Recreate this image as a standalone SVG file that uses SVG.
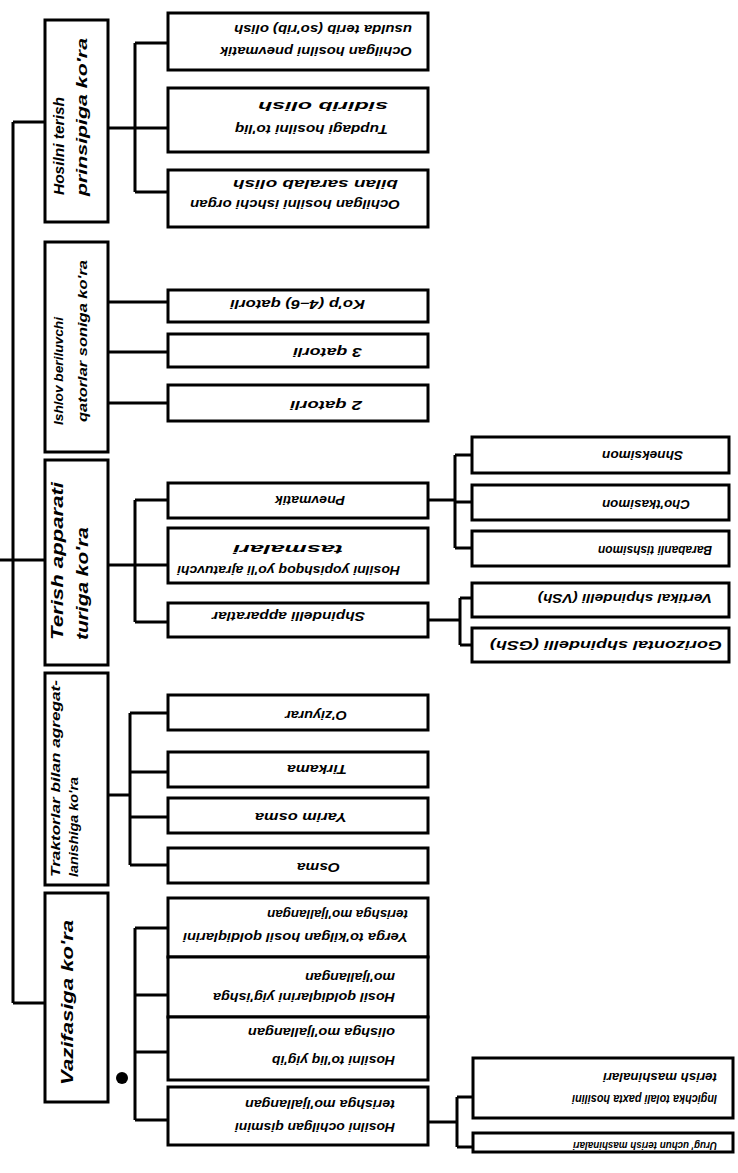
<svg xmlns="http://www.w3.org/2000/svg" width="738" height="1173" viewBox="0 0 738 1173">
<style>
.b{fill:#fff;stroke:#000;stroke-width:3}
.c{stroke:#000;stroke-width:3;fill:none}
.t{font-family:"Liberation Sans",Arial,sans-serif;font-style:italic;font-weight:bold;font-size:13px;fill:#000}
.v{font-family:"Liberation Sans",Arial,sans-serif;font-style:italic;font-weight:bold;fill:#000}
</style>
<rect width="738" height="1173" fill="#fff"/>
<g id="connectors">
<path class="c" d="M13 122V1003M13 122H45M0 560H45M13 1003H45"/>
<path class="c" d="M108 128H168M135 43V192M135 43H168M135 192H168"/>
<path class="c" d="M108 302H168M108 352H168M108 403H168"/>
<path class="c" d="M108 565H168M135 500V622M135 500H168M135 622H168"/>
<path class="c" d="M428 500H455M455 455V548M455 455H472M455 502H472M455 548H472"/>
<path class="c" d="M428 620H460M460 598V645M460 598H472M460 645H472"/>
<path class="c" d="M108 795H130M130 713V865M130 713H168M130 772H168M130 817H168M130 865H168"/>
<path class="c" d="M135 928V1120M135 928H168M135 995H168M135 1052H168M135 1120H168"/>
<path class="c" d="M428 1122H457M457 1097V1147M457 1097H473M457 1147H473"/>
<circle cx="122" cy="1078" r="6" fill="#000"/>
</g>
<g id="L1"><rect class="b" x="45" y="20" width="63" height="202"/>
<text class="v" font-size="14" x="64" y="195" transform="rotate(-90 64 195)" textLength="98" lengthAdjust="spacingAndGlyphs">Hosilni terish</text>
<text class="v" font-size="15" x="87" y="196" transform="rotate(-90 87 196)" textLength="158" lengthAdjust="spacingAndGlyphs">prinsipiga ko'ra</text></g>
<g id="L2"><rect class="b" x="45" y="242" width="63" height="210"/>
<text class="v" font-size="12" x="63" y="425" transform="rotate(-90 63 425)" textLength="108" lengthAdjust="spacingAndGlyphs">Ishlov beriluvchi</text>
<text class="v" font-size="12" x="87" y="422" transform="rotate(-90 87 422)" textLength="162" lengthAdjust="spacingAndGlyphs">qatorlar soniga ko'ra</text></g>
<g id="L3"><rect class="b" x="45" y="460" width="63" height="205"/>
<text class="v" font-size="17" x="63" y="640" transform="rotate(-90 63 640)" textLength="158" lengthAdjust="spacingAndGlyphs">Terish apparati</text>
<text class="v" font-size="17" x="88" y="640" transform="rotate(-90 88 640)" textLength="113" lengthAdjust="spacingAndGlyphs">turiga ko'ra</text></g>
<g id="L4"><rect class="b" x="45" y="673" width="63" height="212"/>
<text class="v" font-size="12" x="60" y="877" transform="rotate(-90 60 877)" textLength="197" lengthAdjust="spacingAndGlyphs">Traktorlar bilan agregat-</text>
<text class="v" font-size="12" x="78" y="877" transform="rotate(-90 78 877)" textLength="100" lengthAdjust="spacingAndGlyphs">lanishiga ko'ra</text></g>
<g id="L5"><rect class="b" x="45" y="893" width="63" height="209"/>
<text class="v" font-size="17" x="73" y="1085" transform="rotate(-90 73 1085)" textLength="165" lengthAdjust="spacingAndGlyphs">Vazifasiga ko'ra</text></g>
<g id="n1a"><rect class="b" x="168" y="13" width="260" height="57"/>
<text class="t" x="412" y="47" transform="rotate(180 412 47)" textLength="192" lengthAdjust="spacingAndGlyphs">Ochilgan hosilni pnevmatik</text>
<text class="t" x="412" y="25" transform="rotate(180 412 25)" textLength="178" lengthAdjust="spacingAndGlyphs">usulda terib (so'rib) olish</text></g>
<g id="n1b"><rect class="b" x="168" y="88" width="260" height="64"/>
<text class="t" x="388" y="125" transform="rotate(180 388 125)" textLength="153" lengthAdjust="spacingAndGlyphs">Tupdagi hosilni to'liq</text>
<text class="t" x="388" y="102" transform="rotate(180 388 102)" textLength="130" lengthAdjust="spacingAndGlyphs">sidirib olish</text></g>
<g id="n1c"><rect class="b" x="168" y="170" width="260" height="57"/>
<text class="t" x="400" y="200" transform="rotate(180 400 200)" textLength="210" lengthAdjust="spacingAndGlyphs">Ochilgan hosilni ishchi organ</text>
<text class="t" x="398" y="180" transform="rotate(180 398 180)" textLength="165" lengthAdjust="spacingAndGlyphs">bilan saralab olish</text></g>
<g id="n2a"><rect class="b" x="168" y="290" width="260" height="32"/>
<text class="t" x="365" y="300" transform="rotate(180 365 300)" textLength="135" lengthAdjust="spacingAndGlyphs">Ko'p (4–6) qatorli</text></g>
<g id="n2b"><rect class="b" x="168" y="334" width="260" height="33"/>
<text class="t" x="362" y="348" transform="rotate(180 362 348)" textLength="69" lengthAdjust="spacingAndGlyphs">3 qatorli</text></g>
<g id="n2c"><rect class="b" x="168" y="385" width="260" height="36"/>
<text class="t" x="362" y="401" transform="rotate(180 362 401)" textLength="72" lengthAdjust="spacingAndGlyphs">2 qatorli</text></g>
<g id="n3a"><rect class="b" x="168" y="483" width="260" height="35"/>
<text class="t" x="345" y="496" transform="rotate(180 345 496)" textLength="70" lengthAdjust="spacingAndGlyphs">Pnevmatik</text></g>
<g id="n3b"><rect class="b" x="168" y="528" width="260" height="55"/>
<text class="t" x="400" y="566" transform="rotate(180 400 566)" textLength="223" lengthAdjust="spacingAndGlyphs">Hosilni yopishqoq yo'li ajratuvchi</text>
<text class="t" x="343" y="545" transform="rotate(180 343 545)" textLength="110" lengthAdjust="spacingAndGlyphs">tasmalari</text></g>
<g id="n3c"><rect class="b" x="168" y="603" width="260" height="34"/>
<text class="t" x="365" y="612" transform="rotate(180 365 612)" textLength="153" lengthAdjust="spacingAndGlyphs">Shpindelli apparatlar</text></g>
<g id="s1"><rect class="b" x="472" y="437" width="257" height="36"/>
<text class="t" x="683" y="451" transform="rotate(180 683 451)" textLength="81" lengthAdjust="spacingAndGlyphs">Shneksimon</text></g>
<g id="s2"><rect class="b" x="472" y="485" width="257" height="35"/>
<text class="t" x="690" y="500" transform="rotate(180 690 500)" textLength="88" lengthAdjust="spacingAndGlyphs">Cho'tkasimon</text></g>
<g id="s3"><rect class="b" x="472" y="531" width="257" height="35"/>
<text class="t" x="712" y="546" transform="rotate(180 712 546)" textLength="114" lengthAdjust="spacingAndGlyphs">Barabanli tishsimon</text></g>
<g id="s4"><rect class="b" x="472" y="583" width="257" height="34"/>
<text class="t" x="712" y="594" transform="rotate(180 712 594)" textLength="174" lengthAdjust="spacingAndGlyphs">Vertikal shpindelli (VSh)</text></g>
<g id="s5"><rect class="b" x="472" y="628" width="257" height="34"/>
<text class="t" x="722" y="641" transform="rotate(180 722 641)" textLength="232" lengthAdjust="spacingAndGlyphs">Gorizontal shpindelli (GSh)</text></g>
<g id="n4a"><rect class="b" x="168" y="695" width="260" height="35"/>
<text class="t" x="347" y="711" transform="rotate(180 347 711)" textLength="62" lengthAdjust="spacingAndGlyphs">O'ziyurar</text></g>
<g id="n4b"><rect class="b" x="168" y="752" width="260" height="35"/>
<text class="t" x="347" y="765" transform="rotate(180 347 765)" textLength="60" lengthAdjust="spacingAndGlyphs">Tirkama</text></g>
<g id="n4c"><rect class="b" x="168" y="798" width="260" height="35"/>
<text class="t" x="347" y="813" transform="rotate(180 347 813)" textLength="92" lengthAdjust="spacingAndGlyphs">Yarim osma</text></g>
<g id="n4d"><rect class="b" x="168" y="848" width="260" height="35"/>
<text class="t" x="340" y="863" transform="rotate(180 340 863)" textLength="43" lengthAdjust="spacingAndGlyphs">Osma</text></g>
<g id="n5a"><rect class="b" x="168" y="898" width="260" height="59"/>
<text class="t" x="408" y="933" transform="rotate(180 408 933)" textLength="225" lengthAdjust="spacingAndGlyphs">Yerga to'kilgan hosil qoldiqlarini</text>
<text class="t" x="408" y="910" transform="rotate(180 408 910)" textLength="141" lengthAdjust="spacingAndGlyphs">terishga mo'ljallangan</text></g>
<g id="n5b"><rect class="b" x="168" y="957" width="260" height="60"/>
<text class="t" x="395" y="993" transform="rotate(180 395 993)" textLength="182" lengthAdjust="spacingAndGlyphs">Hosil qoldiqlarini yig'ishga</text>
<text class="t" x="395" y="973" transform="rotate(180 395 973)" textLength="90" lengthAdjust="spacingAndGlyphs">mo'ljallangan</text></g>
<g id="n5c"><rect class="b" x="168" y="1017" width="260" height="63"/>
<text class="t" x="395" y="1056" transform="rotate(180 395 1056)" textLength="123" lengthAdjust="spacingAndGlyphs">Hosilni to'liq yig'ib</text>
<text class="t" x="395" y="1028" transform="rotate(180 395 1028)" textLength="147" lengthAdjust="spacingAndGlyphs">olishga mo'ljallangan</text></g>
<g id="n5d"><rect class="b" x="168" y="1087" width="260" height="58"/>
<text class="t" x="395" y="1123" transform="rotate(180 395 1123)" textLength="160" lengthAdjust="spacingAndGlyphs">Hosilni ochilgan qismini</text>
<text class="t" x="395" y="1100" transform="rotate(180 395 1100)" textLength="150" lengthAdjust="spacingAndGlyphs">terishga mo'ljallangan</text></g>
<g id="s6"><rect class="b" x="473" y="1058" width="260" height="60"/>
<text class="t" x="717" y="1095" transform="rotate(180 717 1095)" textLength="145" lengthAdjust="spacingAndGlyphs">Ingichka tolali paxta hosilini</text>
<text class="t" x="717" y="1073" transform="rotate(180 717 1073)" textLength="114" lengthAdjust="spacingAndGlyphs">terish mashinalari</text></g>
<g id="s7"><rect class="b" x="473" y="1133" width="260" height="19"/>
<text class="t" style="font-size:11px" x="717" y="1142" transform="rotate(180 717 1142)" textLength="144" lengthAdjust="spacingAndGlyphs">Urug' uchun terish mashinalari</text></g>
</svg>
